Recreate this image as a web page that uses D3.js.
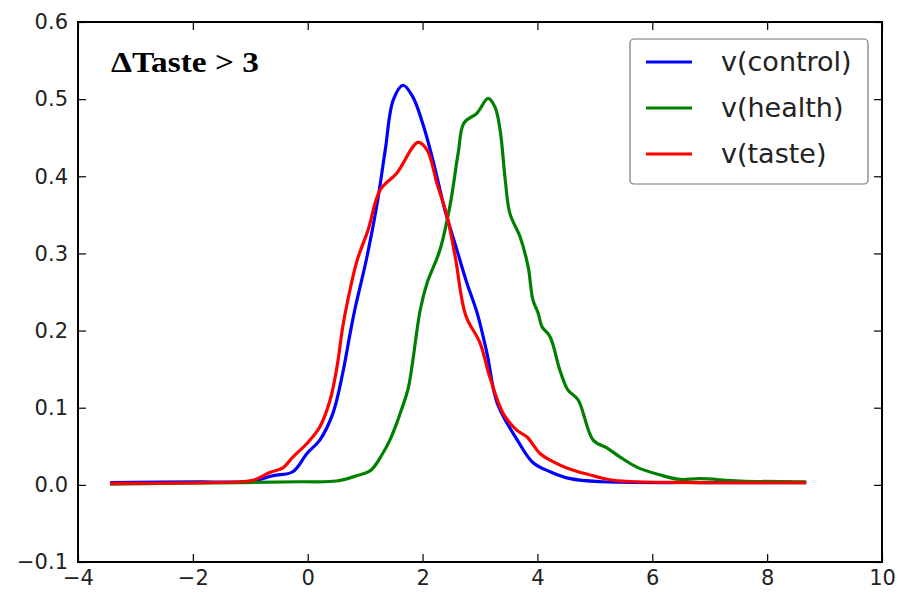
<!DOCTYPE html>
<html><head><meta charset="utf-8">
<script src="https://cdn.jsdelivr.net/npm/d3@7"></script>
<style>body{margin:0;background:#fff}svg{display:block}</style>
</head><body>
<svg id="c" width="898" height="593"></svg>
<script>
// ---- data ----
const xTicks = [-4, -2, 0, 2, 4, 6, 8, 10];
const yTicks = [-0.1, 0.0, 0.1, 0.2, 0.3, 0.4, 0.5, 0.6];
const seriesNames = ["v(control)", "v(health)", "v(taste)"];
const seriesColors = ["#0000ff", "#008000", "#ff0000"];
const titleText = "ΔTaste > 3";

const controlX = [-3.44,-1.88,-1.0,-0.6,-0.26,-0.01,0.21,0.44,0.61,0.74,0.82,1.03,1.21,1.35,1.49,1.66,1.83,2.0,2.18,2.39,2.6,2.77,2.95,3.12,3.3,3.65,3.92,4.22,4.57,5.14,6.83,8.68];
const controlY = [0.003,0.004,0.0045,0.012,0.017,0.041,0.058,0.093,0.145,0.197,0.227,0.295,0.365,0.434,0.499,0.518,0.503,0.469,0.421,0.356,0.304,0.262,0.223,0.171,0.106,0.058,0.029,0.017,0.008,0.004,0.003,0.003];

const healthX = [-3.44,-1.18,-0.13,0.5,0.86,1.1,1.3,1.43,1.55,1.63,1.75,1.96,2.08,2.3,2.48,2.62,2.72,2.95,3.14,3.26,3.35,3.44,3.52,3.7,3.84,3.92,4.01,4.08,4.22,4.39,4.53,4.71,4.97,5.21,5.44,5.73,6.13,6.48,6.83,7.53,8.68];
const healthY = [0.001,0.003,0.004,0.005,0.012,0.019,0.04,0.058,0.08,0.097,0.125,0.227,0.262,0.304,0.363,0.43,0.469,0.482,0.501,0.49,0.46,0.395,0.352,0.321,0.282,0.24,0.223,0.205,0.192,0.149,0.123,0.11,0.058,0.048,0.036,0.023,0.013,0.007,0.008,0.005,0.004];

const tasteX = [-3.44,-1.18,-0.95,-0.66,-0.43,-0.26,-0.01,0.21,0.39,0.51,0.61,0.7,0.86,1.05,1.26,1.55,1.92,2.08,2.25,2.43,2.57,2.75,3.0,3.17,3.4,3.64,3.82,4.04,4.22,4.51,4.86,5.32,6.83,8.68];
const tasteY = [0.002,0.004,0.006,0.016,0.022,0.036,0.054,0.075,0.11,0.153,0.205,0.24,0.291,0.33,0.382,0.404,0.444,0.434,0.391,0.347,0.295,0.22,0.184,0.14,0.093,0.071,0.062,0.041,0.032,0.022,0.014,0.006,0.003,0.003];

const seriesX = [controlX, healthX, tasteX];
const seriesY = [controlY, healthY, tasteY];

// ---- chart ----
const svg = d3.select("#c");
const L = 78, R = 882, T = 22, B = 562;
const x = d3.scaleLinear().domain([-4, 10]).range([L, R]);
const y = d3.scaleLinear().domain([-0.1, 0.6]).range([B, T]);
const fmtY = d => d3.format(".1f")(d).replace("-", "\u2212");
const fmtX = d => String(d).replace("-", "\u2212");

svg.append("clipPath").attr("id","pc").append("rect")
  .attr("x", L).attr("y", T).attr("width", R-L).attr("height", B-T);

const line = d3.line().x(d => x(d[0])).y(d => y(d[1])).curve(d3.curveCatmullRom.alpha(0.5));
const g = svg.append("g").attr("clip-path","url(#pc)");
seriesX.forEach((xs, i) => {
  const pts = xs.map((v, j) => [v, seriesY[i][j]]);
  g.append("path").datum(pts).attr("d", line)
    .attr("fill","none").attr("stroke", seriesColors[i])
    .attr("stroke-width", 3.2).attr("stroke-linejoin","round").attr("stroke-linecap","butt");
});

// axes (ticks inward on all sides)
const tl = 8;
const axB = d3.axisBottom(x).tickValues(xTicks).tickSize(-tl).tickPadding(8).tickFormat(fmtX);
const axT = d3.axisTop(x).tickValues(xTicks).tickSize(-tl).tickFormat("");
const axL = d3.axisLeft(y).tickValues(yTicks).tickSize(-tl).tickPadding(10).tickFormat(fmtY);
const axR = d3.axisRight(y).tickValues(yTicks).tickSize(-tl).tickFormat("");
function style(sel){
  sel.select(".domain").remove();
  sel.selectAll(".tick line").attr("stroke","#000").attr("stroke-width",1.2);
  sel.selectAll(".tick text").attr("font-family","'DejaVu Sans', sans-serif").attr("font-size",21).attr("fill","#222");
}
svg.append("g").attr("transform",`translate(0,${B})`).call(axB).call(style);
svg.append("g").attr("transform",`translate(0,${T})`).call(axT).call(style);
svg.append("g").attr("transform",`translate(${L},0)`).call(axL).call(style);
svg.append("g").attr("transform",`translate(${R},0)`).call(axR).call(style);
svg.append("rect").attr("x",L).attr("y",T).attr("width",R-L).attr("height",B-T)
  .attr("fill","none").attr("stroke","#000").attr("stroke-width",2);

// title
svg.append("text").attr("x",111).attr("y",72).text(titleText)
  .attr("font-family","'Liberation Serif', 'Times New Roman', serif").attr("font-weight","bold")
  .attr("font-size",30).attr("textLength",148).attr("lengthAdjust","spacingAndGlyphs").attr("fill","#000");

// legend
const lg = svg.append("g");
lg.append("rect").attr("x",630).attr("y",39).attr("width",238).attr("height",145)
  .attr("rx",4).attr("fill","#fff").attr("stroke","#777").attr("stroke-width",1.2);
seriesNames.forEach((n, i) => {
  const yy = 62 + i*46;
  lg.append("line").attr("x1",646).attr("x2",692).attr("y1",yy).attr("y2",yy)
    .attr("stroke",seriesColors[i]).attr("stroke-width",3.2);
  lg.append("text").attr("x",721).attr("y",yy+9).text(n)
    .attr("font-family","'DejaVu Sans', sans-serif").attr("font-size",27).attr("fill","#222");
});
</script>
</body></html>
